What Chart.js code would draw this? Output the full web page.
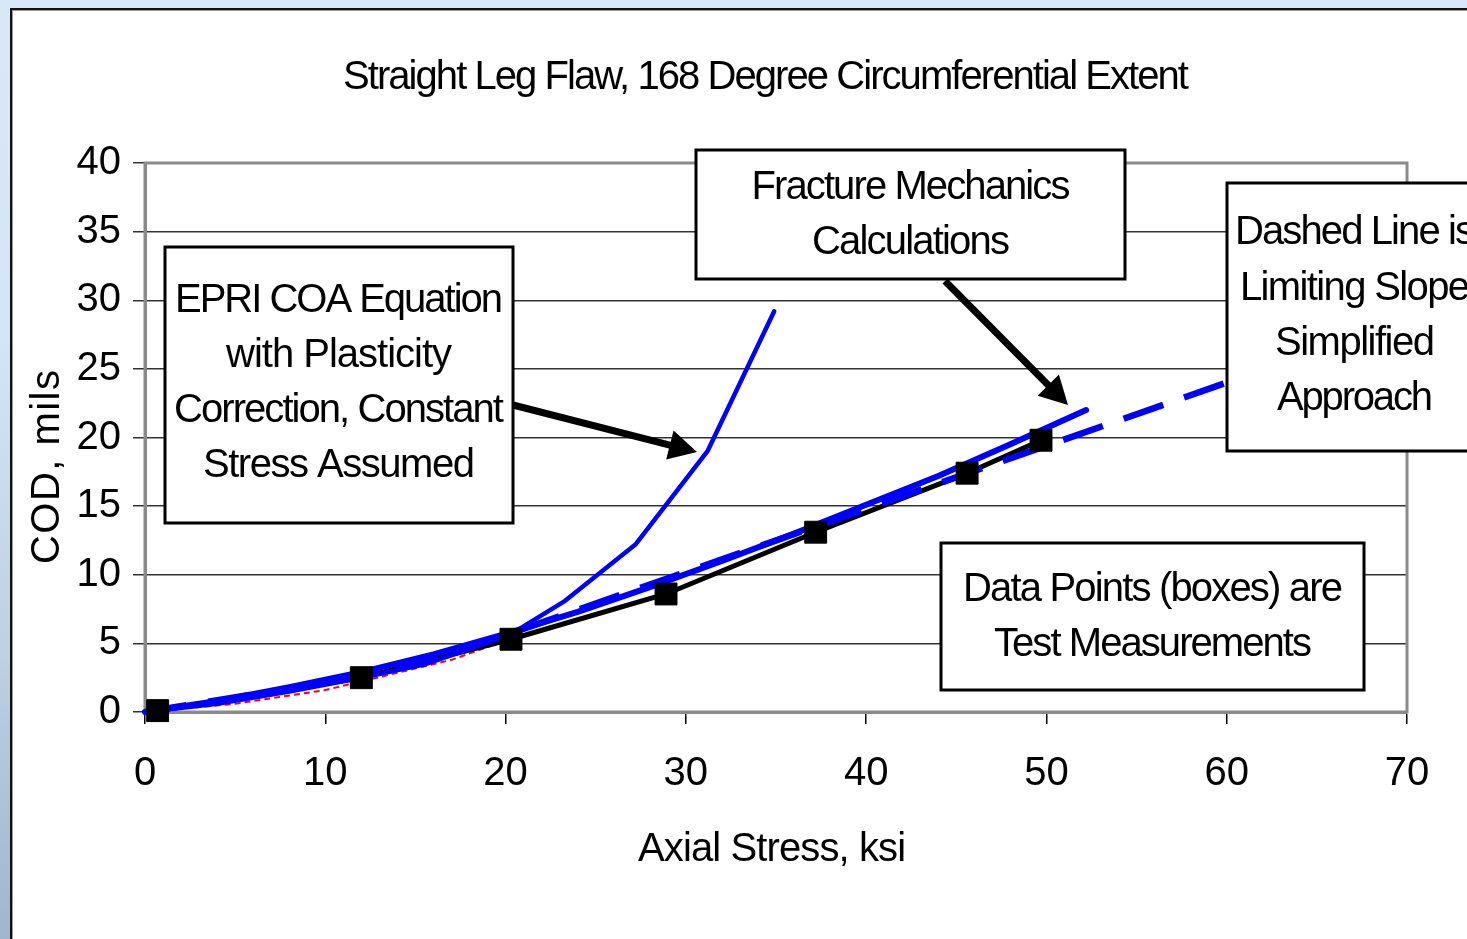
<!DOCTYPE html>
<html>
<head>
<meta charset="utf-8">
<script src="https://cdn.jsdelivr.net/npm/chart.js@4.4.1/dist/chart.umd.min.js"></script>
<style>
  html, body { margin: 0; padding: 0; width: 1467px; height: 939px; overflow: hidden;
    background: linear-gradient(180deg, #d9e8f8 0%, #d4e5f7 35%, #bdd0e4 70%, #9fb6cd 100%); }
  #panel { position: absolute; left: 10px; top: 8px; width: 1520px; height: 1000px;
    background: #fff; border: 2px solid #111; box-shadow: inset 1px 1px 0 #9a9a9a; }
  #wrap { position: absolute; left: 0; top: 0; width: 1467px; height: 939px; }
</style>
</head>
<body>
<div id="panel"></div>
<div id="wrap"><canvas id="chart" width="1467" height="939"></canvas></div>
<script>
// Test measurements (boxes)
const testStress = [0.7, 12.0, 20.3, 28.9, 37.2, 45.6, 49.7];
const testCOD    = [0.1, 2.5, 5.3, 8.6, 13.1, 17.4, 19.8];

// Fracture mechanics calculations
const fmStress = [0, 4, 8, 12, 16, 20, 24, 28, 32, 36, 40, 44, 48, 52.2];
const fmCOD    = [0, 0.8, 1.8, 2.9, 4.2, 5.7, 7.3, 9.1, 11.0, 13.0, 15.1, 17.2, 19.5, 22.0];

// EPRI COA equation with plasticity correction, constant stress
const epriStress = [0, 4, 8, 12, 15.6, 20.2, 23.3, 27.2, 31.2, 34.9];
const epriCOD    = [0, 0.6, 1.5, 2.5, 3.5, 5.6, 8.1, 12.2, 19.0, 29.2];

// Limiting slope simplified approach (dashed)
const slopeStress = [0, 8, 16, 20, 60];
const slopeCOD    = [0, 1.7, 4.0, 5.6, 24.0];

// Elastic estimate (thin red dashed, mostly hidden underneath)
const elasticStress = [0, 5, 10, 17, 20];
const elasticCOD    = [0, 0.6, 1.6, 3.8, 5.2];

// Axis ticks
const xTickValues = [0, 10, 20, 30, 40, 50, 60, 70];
const yTickValues = [0, 5, 10, 15, 20, 25, 30, 35, 40];

// Texts
const chartTitle = 'Straight Leg Flaw, 168 Degree Circumferential Extent';
const xTitle = 'Axial Stress, ksi';
const yTitle = 'COD, mils';
const noteEpri = ['EPRI COA Equation', 'with Plasticity', 'Correction, Constant', 'Stress Assumed'];
const noteFracture = ['Fracture Mechanics', 'Calculations'];
const noteDashed = ['Dashed Line is', 'Limiting Slope', 'Simplified', 'Approach'];
const noteData = ['Data Points (boxes) are', 'Test Measurements'];

const FONT = '"Liberation Sans", Arial, sans-serif';
const FS = 40;

function pts(xs, ys) { return xs.map((x, i) => ({ x: x, y: ys[i] })); }

// Draw a line of text squeezed/spread to a given ink width, centred on (cx, cy)
function fitText(ctx, text, cx, cy, width, size) {
  ctx.font = size + 'px ' + FONT;
  ctx.letterSpacing = '0px';
  const w = ctx.measureText(text).width;
  const n = Array.from(text).length;
  const sp = n > 1 ? (width + 4 - w) / (n - 1) : 0;
  ctx.letterSpacing = sp.toFixed(2) + 'px';
  ctx.textAlign = 'left';
  ctx.textBaseline = 'alphabetic';
  const total = w + sp * (n - 1);
  ctx.fillText(text, cx - total / 2, cy + 0.358 * size);
  ctx.letterSpacing = '0px';
}

function noteBox(ctx, x, y, w, h, lines, cx, cys, widths) {
  ctx.save();
  ctx.fillStyle = '#fff';
  ctx.fillRect(x, y, w, h);
  ctx.lineWidth = 3;
  ctx.strokeStyle = '#000';
  ctx.strokeRect(x, y, w, h);
  ctx.fillStyle = '#000';
  lines.forEach((t, i) => fitText(ctx, t, cx, cys[i], widths[i], FS));
  ctx.restore();
}

function arrow(ctx, x1, y1, x2, y2) {
  const ang = Math.atan2(y2 - y1, x2 - x1);
  const headLen = 28, headHalf = 15;
  const bx = x2 - headLen * Math.cos(ang), by = y2 - headLen * Math.sin(ang);
  ctx.save();
  ctx.strokeStyle = '#000';
  ctx.fillStyle = '#000';
  ctx.lineWidth = 7;
  ctx.beginPath();
  ctx.moveTo(x1, y1);
  ctx.lineTo(bx + 4 * Math.cos(ang), by + 4 * Math.sin(ang));
  ctx.stroke();
  ctx.beginPath();
  ctx.moveTo(x2, y2);
  ctx.lineTo(bx + headHalf * Math.sin(ang), by - headHalf * Math.cos(ang));
  ctx.lineTo(bx - headHalf * Math.sin(ang), by + headHalf * Math.cos(ang));
  ctx.closePath();
  ctx.fill();
  ctx.restore();
}

const decor = {
  id: 'decor',
  beforeDatasetsDraw(chart) {
    const a = chart.chartArea, ctx = chart.ctx;
    ctx.save();
    ctx.strokeStyle = '#8a8a8a';
    ctx.lineWidth = 3;
    ctx.strokeRect(a.left, a.top, a.right - a.left, a.bottom - a.top);
    ctx.restore();
  },
  afterDatasetsDraw(chart) {
    const ctx = chart.ctx;
    arrow(ctx, 513, 405, 697, 452);
    arrow(ctx, 945, 281, 1068, 405);
    noteBox(ctx, 165, 247, 348, 276, noteEpri, 339, [298, 353, 408, 463], [324, 222, 326, 268]);
    noteBox(ctx, 696, 150, 429, 129, noteFracture, 911, [185, 240], [315, 194]);
    noteBox(ctx, 1227, 183, 320, 268, noteDashed, 1355, [230, 286, 341, 396], [236, 226, 156, 152]);
    noteBox(ctx, 941, 543, 423, 147, noteData, 1153, [587, 642], [376, 314]);
  },
  afterDraw(chart) {
    const ctx = chart.ctx;
    ctx.save();
    ctx.fillStyle = '#000';
    fitText(ctx, chartTitle, 766, 75, 842, FS);
    fitText(ctx, xTitle, 772, 847, 264, FS);
    ctx.translate(45, 467);
    ctx.rotate(-Math.PI / 2);
    fitText(ctx, yTitle, 0, 0, 190, FS);
    ctx.restore();
  }
};

const blue = '#0000ff';

new Chart(document.getElementById('chart'), {
  type: 'line',
  data: {
    datasets: [
      { label: 'Test Measurements markers', data: pts(testStress, testCOD), showLine: false,
        pointStyle: 'rect', pointRadius: 15.5, pointBackgroundColor: '#000', pointBorderColor: '#000',
        pointBorderWidth: 1, clip: false, order: 0 },
      { label: 'Fracture Mechanics', data: pts(fmStress, fmCOD), borderColor: blue, borderWidth: 6,
        pointRadius: 0, borderCapStyle: 'round', borderJoinStyle: 'round', clip: false, order: 1 },
      { label: 'EPRI COA', data: pts(epriStress, epriCOD), borderColor: blue, borderWidth: 4.5,
        pointRadius: 0, borderCapStyle: 'round', borderJoinStyle: 'round', clip: false, order: 2 },
      { label: 'Limiting Slope', data: pts(slopeStress, slopeCOD), borderColor: blue, borderWidth: 6.5,
        borderDash: [42, 22], pointRadius: 0, clip: false, order: 3 },
      { label: 'Test Measurements', data: pts(testStress, testCOD), borderColor: '#000', borderWidth: 5,
        pointRadius: 0, clip: false, order: 4 },
      { label: 'Elastic', data: pts(elasticStress, elasticCOD), borderColor: '#ff0000', borderWidth: 2,
        borderDash: [6, 4], pointRadius: 0, clip: false, order: 5 }
    ]
  },
  options: {
    responsive: false,
    devicePixelRatio: 1,
    animation: false,
    events: [],
    elements: { line: { tension: 0 } },
    layout: { padding: { top: 163, right: 60, bottom: 0, left: 0 } },
    plugins: { legend: { display: false }, tooltip: { enabled: false }, title: { display: false } },
    scales: {
      x: {
        type: 'linear', min: 0, max: 70,
        afterBuildTicks: s => { s.ticks = xTickValues.map(v => ({ value: v })); },
        afterFit: s => { s.height = 227; },
        grid: { drawOnChartArea: false, drawTicks: true, tickLength: 12, color: '#000', lineWidth: 1.5 },
        border: { display: true, color: '#8a8a8a', width: 3 },
        ticks: { font: { family: FONT, size: FS }, color: '#000', padding: 26, maxRotation: 0, autoSkip: false }
      },
      y: {
        type: 'linear', min: 0, max: 40,
        afterBuildTicks: s => { s.ticks = yTickValues.map(v => ({ value: v })); },
        afterFit: s => { s.width = 145; },
        grid: { color: '#333', lineWidth: 1.5, tickLength: 12, drawTicks: true },
        border: { display: true, color: '#8a8a8a', width: 3 },
        ticks: { font: { family: FONT, size: FS }, color: '#000', padding: 12, autoSkip: false }
      }
    }
  },
  plugins: [decor]
});
</script>
</body>
</html>
